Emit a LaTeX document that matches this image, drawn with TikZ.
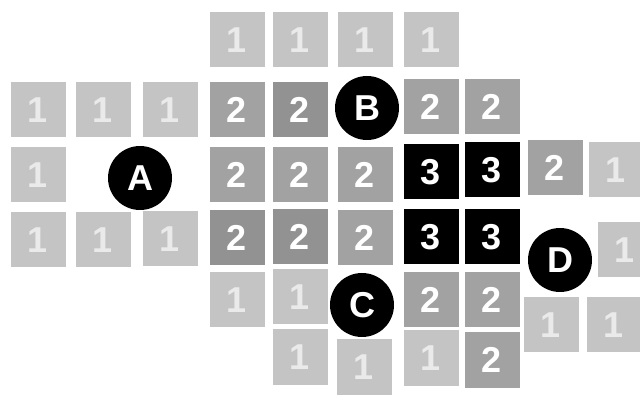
\documentclass[tikz,border=0pt]{standalone}
\usepackage{fontspec}
\setmainfont{Liberation Sans}
\definecolor{gone}{HTML}{C4C4C4}
\definecolor{gtwo}{HTML}{A2A2A2}
\definecolor{gtwod}{HTML}{929292}
\newcommand{\tilefont}{\fontsize{36}{38}\selectfont\bfseries}
\begin{document}
\begin{tikzpicture}[x=1pt,y=-1pt,
  tile/.style={minimum width=55pt,minimum height=55pt,inner sep=0pt,text=white,
    font=\tilefont},
  tone/.style={tile,fill=gone,text=gone!35!white},
  ttwo/.style={tile,fill=gtwo},
  ttwod/.style={tile,fill=gtwod},
  tthree/.style={tile,fill=black},
  spot/.style={circle,fill=black,minimum size=64pt,inner sep=0pt,text=white,
    font=\tilefont}]
\useasboundingbox (0,0) rectangle (640,395);
\fill[white] (0,0) rectangle (640,395);
\begin{scope}
\clip (0,0) rectangle (640,395);
% row 1
\node[tone] (r1a) at (237,40) {1};
\node[tone] (r1b) at (300,40) {1};
\node[tone] (r1c) at (365,40) {1};
\node[tone] (r1d) at (431,40) {1};
% row 2
\node[tone] (r2a) at (38,110) {1};
\node[tone] (r2b) at (103,110) {1};
\node[tone] (r2c) at (170,110) {1};
\node[ttwo] (r2d) at (237,110) {2};
\node[ttwod] (r2e) at (300,110) {2};
\node[ttwo] (r2f) at (431,107) {2};
\node[ttwo] (r2g) at (492,107) {2};
% row 3
\node[tone] (r3a) at (38,175) {1};
\node[ttwo] (r3b) at (237,175) {2};
\node[ttwo] (r3c) at (300,175) {2};
\node[ttwo] (r3d) at (365,175) {2};
\node[tthree] (r3e) at (431,172) {3};
\node[tthree] (r3f) at (492,170) {3};
\node[ttwo] (r3g) at (555,168) {2};
\node[tone] (r3h) at (616,170) {1};
% row 4
\node[tone] (r4a) at (38,240) {1};
\node[tone] (r4b) at (103,240) {1};
\node[tone] (r4c) at (170,239) {1};
\node[ttwod] (r4d) at (237,238) {2};
\node[ttwod] (r4e) at (300,237) {2};
\node[ttwo] (r4f) at (365,238) {2};
\node[tthree] (r4g) at (431,237) {3};
\node[tthree] (r4h) at (492,237) {3};
\node[tone] (r4i) at (625,250) {1};
% row 5
\node[tone] (r5a) at (237,300) {1};
\node[tone] (r5b) at (300,297) {1};
\node[ttwo] (r5c) at (431,300) {2};
\node[ttwo] (r5d) at (492,300) {2};
\node[tone] (r5e) at (551,325) {1};
\node[tone] (r5f) at (614,325) {1};
% row 6
\node[tone] (r6a) at (300,357) {1};
\node[tone] (r6b) at (364,367) {1};
\node[tone] (r6c) at (431,358) {1};
\node[ttwo] (r6d) at (492,360) {2};
% spots
\node[spot] (A) at (140,178) {A};
\node[spot] (B) at (367,108) {B};
\node[spot] (C) at (362,305) {C};
\node[spot] (D) at (560,260) {D};
\end{scope}
\end{tikzpicture}
\end{document}
